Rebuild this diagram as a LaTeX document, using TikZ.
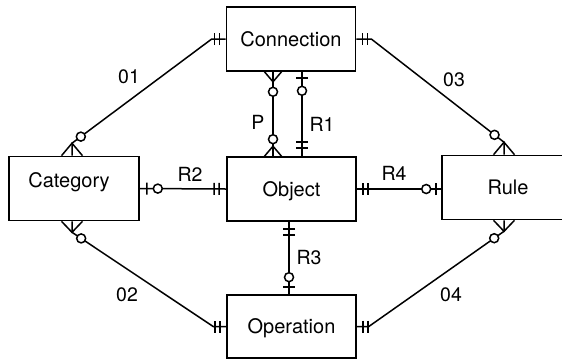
\documentclass[tikz,border=0pt]{standalone}
\usepackage{fontspec}
\setmainfont{TeX Gyre Heros}
\usetikzlibrary{calc}

% bar across a connector: from #1 towards #2, at distance #3
\newcommand\erbar[3]{%
  \coordinate (erq) at ($(#1)!#3!(#2)$);
  \draw[rel] ($(erq)!6pt!90:(#2)$) -- ($(erq)!6pt!-90:(#2)$);}
% open ring on a connector: from #1 towards #2, at distance #3
\newcommand\erring[3]{%
  \draw[rel, fill=white] ($(#1)!#3!(#2)$) circle (4.5pt);}
% crow's foot at box point #1, opening towards the box, apex towards #2
\newcommand\ercrow[3]{%
  \coordinate (erq) at ($(#1)!#3!(#2)$);
  \draw[rel] ($(#1)!8.5pt!90:(#2)$) -- (erq) -- ($(#1)!8.5pt!-90:(#2)$);}
% crow's foot on a horizontal box edge: foot #1, apex #2
\newcommand\ercrowh[2]{%
  \draw[rel] ($(#1)+(-10.5,0)$) -- (#2) -- ($(#1)+(10.5,0)$);}

\begin{document}
\begin{tikzpicture}[x=1pt,y=-1pt,
  ent/.style={draw, line width=1.6pt, minimum width=129pt, minimum height=64pt,
    inner sep=0pt, text height=14.4pt, text depth=0pt,
    font=\fontsize{20}{24}\selectfont},
  rel/.style={line width=1.5pt},
  lab/.style={inner sep=0pt, font=\fontsize{19.5}{24}\selectfont}]
\useasboundingbox (0,0) rectangle (562,360);
\clip (0,0) rectangle (562,360);

% entities
\node[ent] (conn) at (291,39) {Connection};
\node[ent, minimum width=130pt] (cat) at (74,188.5) {\raisebox{8pt}{Category}\hspace*{10pt}};
\node[ent] (obj) at (291.5,189) {Object};
\node[ent, minimum width=132pt] (rule) at (508,187.5) {Rule};
\node[ent, minimum height=63pt] (op) at (291.5,326.5) {Operation};

% R2: Category -- Object
\draw[rel] (cat.east) -- (obj.west);
\erbar{cat.east}{obj.west}{7pt}
\erring{cat.east}{obj.west}{18pt}
\erbar{obj.west}{cat.east}{7pt}
\erbar{obj.west}{cat.east}{12pt}
\node[lab] (lr2) at (190,174) {R2};

% R4: Object -- Rule
\coordinate (r4b) at (obj.east -| rule.west);
\draw[rel] (obj.east) -- (r4b);
\erbar{obj.east}{r4b}{6pt}
\erbar{obj.east}{r4b}{11pt}
\erbar{r4b}{obj.east}{5pt}
\erring{r4b}{obj.east}{15pt}
\node[lab] (lr4) at (394,173) {R4};

% R3: Object -- Operation
\coordinate (r3a) at ($(obj.south)+(-2.5,0)$);
\coordinate (r3b) at (r3a |- op.north);
\draw[rel] (r3a) -- (r3b);
\erbar{r3a}{r3b}{7pt}
\erbar{r3a}{r3b}{13pt}
\erbar{r3b}{r3a}{7pt}
\erring{r3b}{r3a}{17pt}
\node[lab] (lr3) at (309,258) {R3};

% P: Connection -- Object
\coordinate (pa) at ($(conn.south)+(-18,0)$);
\coordinate (pb) at (pa |- obj.north);
\draw[rel] (pa) -- (pb);
\ercrow{pa}{pb}{10pt}
\erring{pa}{pb}{20pt}
\ercrow{pb}{pa}{10pt}
\erring{pb}{pa}{17pt}
\node[lab] (lp) at (258,122) {P};

% R1: Connection -- Object
\coordinate (r1a) at ($(conn.south)+(11,0)$);
\coordinate (r1b) at (r1a |- obj.north);
\draw[rel] (r1a) -- (r1b);
\erbar{r1a}{r1b}{6pt}
\erring{r1a}{r1b}{19pt}
\erbar{r1b}{r1a}{8pt}
\erbar{r1b}{r1a}{14pt}
\node[lab] (lr1) at (322,124) {R1};

% 01: Category -- Connection
\coordinate (d1f) at ($(cat.north)+(-2,0)$);
\coordinate (d1a) at ($(d1f)+(0,-12.5)$);
\coordinate (d1s) at ($(conn.west)+(-14,0)$);
\draw[rel] (d1f) -- (d1a) -- (d1s) -- (conn.west);
\ercrowh{d1f}{d1a}
\erring{d1a}{d1s}{11pt}
\erbar{conn.west}{d1s}{6pt}
\erbar{conn.west}{d1s}{11pt}
\node[lab] (l01) at (129,77) {01};

% 02: Category -- Operation
\coordinate (d2f) at ($(cat.south)+(-2,0)$);
\coordinate (d2a) at ($(d2f)+(0,11)$);
\coordinate (d2s) at ($(op.west)+(-13,0)$);
\draw[rel] (d2f) -- (d2a) -- (d2s) -- (op.west);
\ercrowh{d2f}{d2a}
\erring{d2a}{d2s}{11pt}
\erbar{op.west}{d2s}{6pt}
\erbar{op.west}{d2s}{11pt}
\node[lab] (l02) at (127,295) {02};

% 03: Rule -- Connection
\coordinate (d3f) at ($(rule.north)+(-4,0)$);
\coordinate (d3a) at ($(d3f)+(0,-12.5)$);
\coordinate (d3s) at ($(conn.east)+(15,0)$);
\draw[rel] (d3f) -- (d3a) -- (d3s) -- (conn.east);
\ercrowh{d3f}{d3a}
\erring{d3a}{d3s}{12pt}
\erbar{conn.east}{d3s}{6pt}
\erbar{conn.east}{d3s}{11pt}
\node[lab] (l03) at (454,80) {03};

% 04: Rule -- Operation
\coordinate (d4f) at ($(rule.south)+(-4,0)$);
\coordinate (d4a) at ($(d4f)+(0,11)$);
\coordinate (d4s) at ($(op.east)+(12,0)$);
\draw[rel] (d4f) -- (d4a) -- (d4s) -- (op.east);
\ercrowh{d4f}{d4a}
\erring{d4a}{d4s}{12pt}
\erbar{op.east}{d4s}{6pt}
\erbar{op.east}{d4s}{11pt}
\node[lab] (l04) at (451,295) {04};
\end{tikzpicture}
\end{document}
